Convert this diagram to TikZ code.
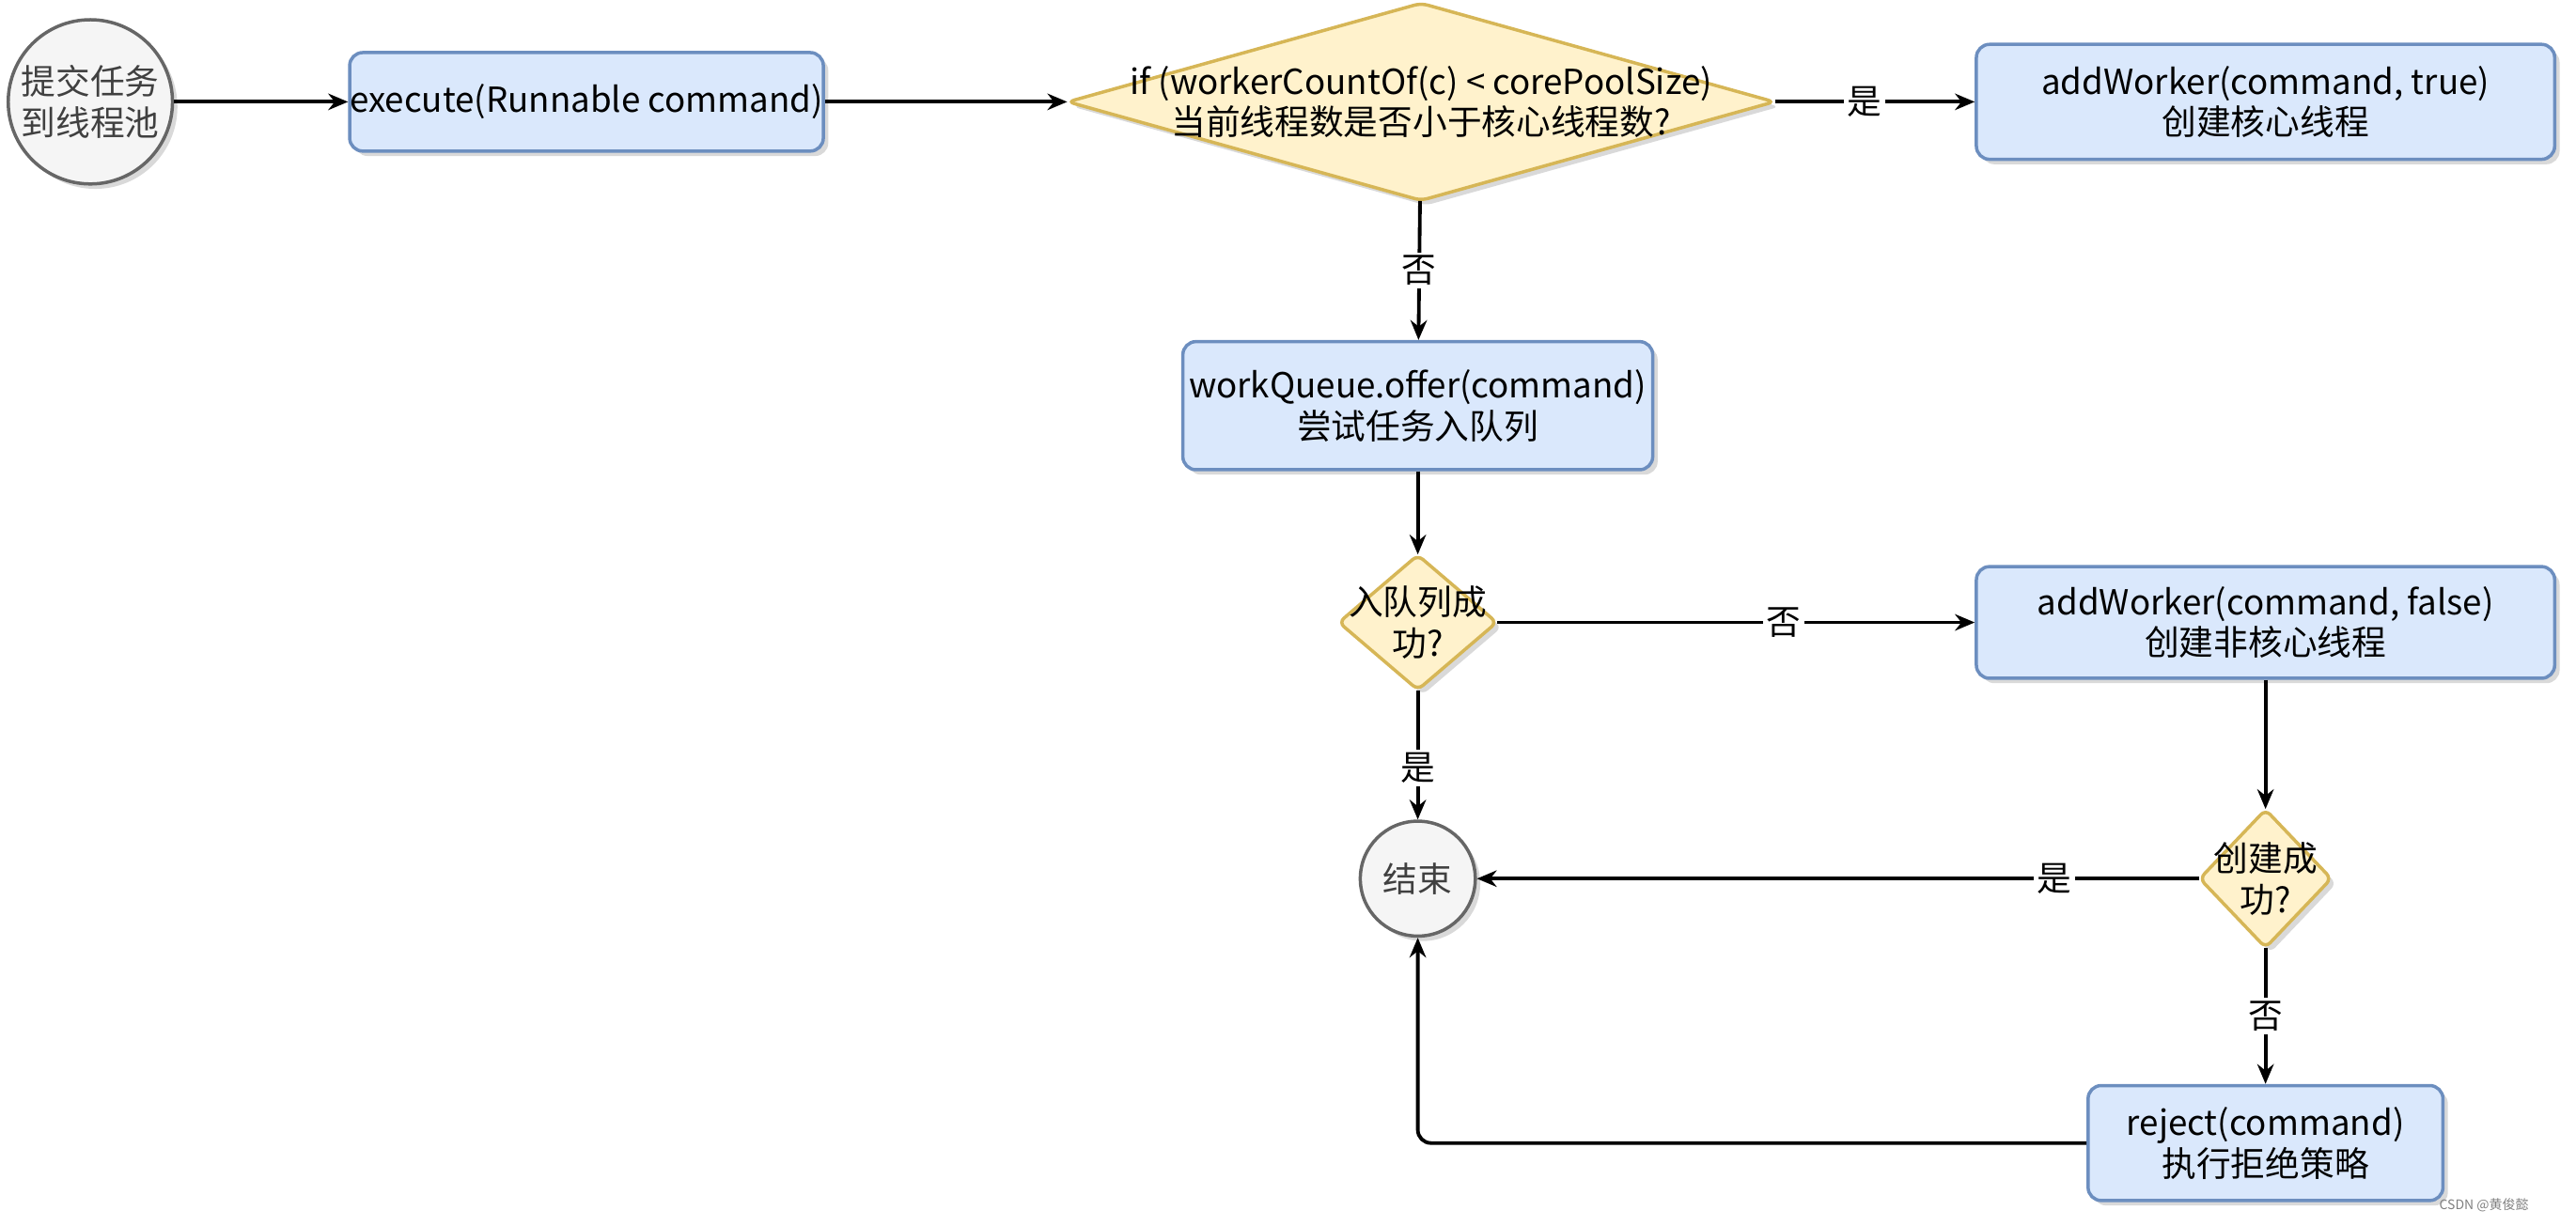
\documentclass[tikz,border=0pt]{standalone}
\usepackage{fontspec}
\setmainfont{Noto Sans CJK SC}
\usetikzlibrary{shapes.geometric,shadows,arrows.meta}
\definecolor{bfill}{HTML}{DAE8FC}\definecolor{bdraw}{HTML}{6C8EBF}
\definecolor{dfill}{HTML}{FFF2CC}\definecolor{ddraw}{HTML}{D6B656}
\definecolor{cfill}{HTML}{F5F5F5}\definecolor{cdraw}{HTML}{666666}
\begin{document}
\begin{tikzpicture}[x=0.5pt,y=-0.5pt,
  font=\fontsize{10.5}{12.5}\selectfont,
  sh/.style={drop shadow={shadow xshift=1.5pt,shadow yshift=-1.5pt,opacity=0.3}},
  box/.style={draw=bdraw,fill=bfill,line width=1pt,rounded corners=4pt,align=center,inner sep=0pt,sh},
  dshape/.style={draw=ddraw,fill=dfill,line width=1pt,rounded corners=2pt,sh},
  dia/.style={rectangle,align=center,inner sep=0pt},
  circ/.style={circle,draw=cdraw,fill=cfill,line width=1pt,align=center,inner sep=0pt,text=black!75,sh},
  arr/.style={-{Stealth[length=6pt,width=5pt]},line width=1.1pt},
  lab/.style={fill=white,inner sep=1pt}]
\useasboundingbox (0,0) rectangle (1568,746);
\path[dshape] (865,2) -- (1080,62) -- (865,122) -- (650,62) -- cycle;
\path[dshape] (863,338) -- (911,379) -- (863,420) -- (815,379) -- cycle;
\path[dshape] (1379,493) -- (1419,535) -- (1379,577) -- (1339,535) -- cycle;
\node[circ,minimum size=50pt] (start) at (55,62) {提交任务\\到线程池};
\node[box,minimum width=141pt,minimum height=30pt] (exec) at (357,62) {execute(Runnable command)};
\node[dia,minimum width=215pt,minimum height=60pt] (d1) at (865,62) {if (workerCountOf(c) < corePoolSize)\\当前线程数是否小于核心线程数?};
\node[box,minimum width=176pt,minimum height=35pt] (aw1) at (1379,62) {addWorker(command, true)\\创建核心线程};
\node[box,minimum width=143pt,minimum height=39pt] (wq) at (863,247) {workQueue.offer(command)\\尝试任务入队列};
\node[dia,minimum width=48pt,minimum height=41pt] (d2) at (863,379) {入队列成\\功?};
\node[box,minimum width=176pt,minimum height=34pt] (aw2) at (1379,379) {addWorker(command, false)\\创建非核心线程};
\node[circ,minimum size=35pt] (end) at (863,535) {结束};
\node[dia,minimum width=40pt,minimum height=42pt] (d3) at (1379,535) {创建成\\功?};
\node[box,minimum width=108pt,minimum height=35pt] (rej) at (1379,696) {reject(command)\\执行拒绝策略};
\node[font=\fontsize{4}{5}\selectfont,text=black!50] (wm) at (1512,734) {CSDN @黄俊懿};
\draw[arr] (start) -- (exec);
\draw[arr] (exec) -- (d1);
\draw[arr] (d1) -- node[lab,pos=0.45]{是} (aw1);
\draw[arr] (d1) -- node[lab]{否} (wq);
\draw[arr] (wq) -- (d2);
\draw[arr] (d2) -- node[lab,pos=0.6]{否} (aw2);
\draw[arr] (d2) -- node[lab,pos=0.6]{是} (end);
\draw[arr] (aw2) -- (d3);
\draw[arr] (d3) -- node[lab,pos=0.2]{是} (end);
\draw[arr] (d3) -- node[lab]{否} (rej);
\draw[arr,rounded corners=4pt] (rej.west) -- (end.south |- rej.west) -- (end.south);
\end{tikzpicture}
\end{document}
